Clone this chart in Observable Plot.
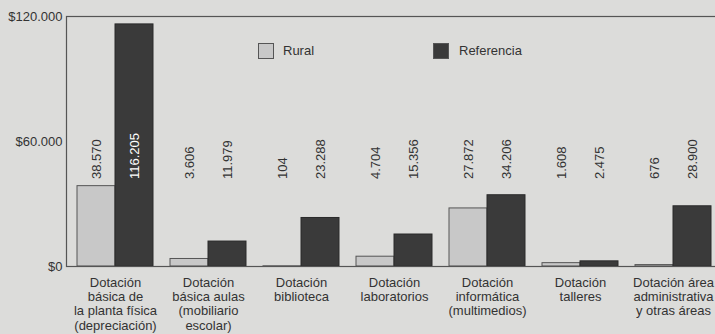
<!DOCTYPE html>
<html><head><meta charset="utf-8">
<script src="https://cdn.jsdelivr.net/npm/d3@7"></script>
<script src="https://cdn.jsdelivr.net/npm/@observablehq/plot@0.6"></script>
<style>
html,body{margin:0;padding:0;background:#dcdcda;overflow:hidden;width:715px;height:334px}
#wrap{position:relative;width:715px;height:334px;overflow:hidden}
.lg{position:absolute;font:13px "Liberation Sans",Arial,sans-serif;color:#333;line-height:16px}
.sw{position:absolute;box-sizing:border-box;border:1px solid #555}
</style></head><body><div id="wrap"></div>
<script>
const categories = ["planta", "aulas", "biblioteca", "laboratorios", "informatica", "talleres", "administrativa"];
const categoryLabels = [
  "Dotación\nbásica de\nla planta física\n(depreciación)",
  "Dotación\nbásica aulas\n(mobiliario\nescolar)",
  "Dotación\nbiblioteca",
  "Dotación\nlaboratorios",
  "Dotación\ninformática\n(multimedios)",
  "Dotación\ntalleres",
  "Dotación área\nadministrativa\ny otras áreas"
];
const series = ["Rural", "Referencia"];
const rural = [38570, 3606, 104, 4704, 27872, 1608, 676];
const referencia = [116205, 11979, 23288, 15356, 34206, 2475, 28900];
const yTicks = [0, 60000, 120000];

const rows = [];
categories.forEach((c, i) => {
  rows.push({category: c, series: "Rural", value: rural[i]});
  rows.push({category: c, series: "Referencia", value: referencia[i]});
});

const loc = d3.formatLocale({decimal: ",", thousands: ".", grouping: [3], currency: ["$", ""]});
const fmt = loc.format(",d");
const money = loc.format("$,d");

const W = 722, H = 334, ML = 66, MR = 1, MT = 16, MB = 68;
const padIn = 0.187, padOut = 0.096;
const bw = Plot.scale({x: {type: "band", domain: categories, range: [ML, W - MR], paddingInner: padIn, paddingOuter: padOut}}).bandwidth;
const half = bw / 2;
const labelY = 42000;

const ruralRows = rows.filter(d => d.series === "Rural");
const refRows = rows.filter(d => d.series === "Referencia");

const chart = Plot.plot({
  width: W, height: H,
  marginLeft: ML, marginRight: MR, marginTop: MT, marginBottom: MB,
  style: {background: "transparent", fontFamily: "'Liberation Sans', Arial, sans-serif", fontSize: "13px", color: "#333", maxWidth: "none"},
  x: {domain: categories, paddingInner: padIn, paddingOuter: padOut, axis: null},
  y: {domain: [0, 120000], ticks: yTicks, tickFormat: d => money(d), tickSize: 0, tickPadding: 4, label: null},
  marks: [
    Plot.barY(ruralRows, {x: "category", y: "value", insetRight: half, fill: "#c8c8c8", stroke: "#555", strokeWidth: 1}),
    Plot.barY(refRows, {x: "category", y: "value", insetLeft: half, fill: "#3a3a3a", stroke: "#2a2a2a", strokeWidth: 1}),
    Plot.frame({stroke: "#555", strokeWidth: 1.2}),
    Plot.text(categories, {x: d => d, text: (d, i) => categoryLabels[i], frameAnchor: "bottom", lineAnchor: "top", lineHeight: 1.1, dy: 10, fill: "#333", fontSize: 13}),
    Plot.text(ruralRows, {x: "category", y: () => labelY, text: d => fmt(d.value), rotate: -90, textAnchor: "start", dx: -half / 2, fill: "#333", fontSize: 13}),
    Plot.text(refRows.filter(d => d.value <= labelY), {x: "category", y: () => labelY, text: d => fmt(d.value), rotate: -90, textAnchor: "start", dx: half / 2, fill: "#333", fontSize: 13}),
    Plot.text(refRows.filter(d => d.value > labelY), {x: "category", y: () => labelY, text: d => fmt(d.value), rotate: -90, textAnchor: "start", dx: half / 2, fill: "white", fontSize: 13})
  ]
});

const wrap = document.getElementById("wrap");
wrap.appendChild(chart);

const legend = [
  {name: series[0], fill: "#c8c8c8", x: 258, tx: 283},
  {name: series[1], fill: "#3a3a3a", x: 433, tx: 459}
];
legend.forEach(l => {
  const s = document.createElement("div");
  s.className = "sw";
  s.style.cssText = `left:${l.x}px;top:43px;width:16px;height:16px;background:${l.fill};`;
  wrap.appendChild(s);
  const t = document.createElement("div");
  t.className = "lg";
  t.style.cssText = `left:${l.tx}px;top:43px;`;
  t.textContent = l.name;
  wrap.appendChild(t);
});
</script></body></html>
